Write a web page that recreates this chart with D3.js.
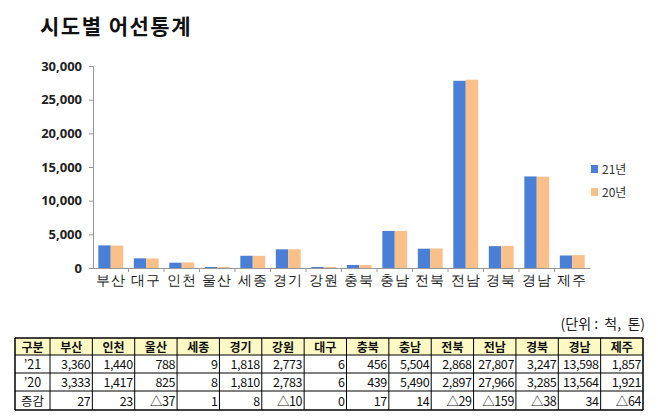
<!DOCTYPE html>
<html>
<head>
<meta charset="utf-8">
<script src="https://cdn.jsdelivr.net/npm/d3@7"></script>
<style>
  body { margin: 0; background: #fff; }
  svg { font-family: "Noto Sans CJK KR", "Noto Sans", sans-serif; }
</style>
</head>
<body>
<svg id="chart" width="658" height="418"></svg>
<script>
// 차트 항목 (그래프 x축)
const chartCats = ['부산','대구','인천','울산','세종','경기','강원','충북','충남','전북','전남','경북','경남','제주'];
// 표 항목 (표 머리글)
const tableCats = ['부산','인천','울산','세종','경기','강원','대구','충북','충남','전북','전남','경북','경남','제주'];
const series = ['21년', '20년'];
const rowLabels = ['\u201921', '\u201920', '증감'];
const vals21 = [3360,1440,788,9,1818,2773,6,456,5504,2868,27807,3247,13598,1857];
const vals20 = [3333,1417,825,8,1810,2783,6,439,5490,2897,27966,3285,13564,1921];
const diffs = [27,23,-37,1,8,-10,0,17,14,-29,-159,-38,34,-64];
const yTicks = [0,5000,10000,15000,20000,25000,30000];

const colors = { '21년': '#4a7fd8', '20년': '#fbbf8a' };
const svg = d3.select('#chart');

// 제목
svg.append('text')
  .attr('x', 40).attr('y', 34)
  .attr('font-size', 21).attr('font-weight', 'bold').attr('fill', '#111')
  .attr('letter-spacing', 1.5)
  .text('시도별 어선통계');

// 스케일
const x = d3.scaleBand().domain(chartCats).range([93, 590]).paddingInner(0.3).paddingOuter(0.15);
const x1 = d3.scaleBand().domain(series).range([0, x.bandwidth()]);
const y = d3.scaleLinear().domain([0, 30000]).range([268, 66]);

// y축
const yAx = svg.append('g').attr('transform', 'translate(93,0)')
  .call(d3.axisLeft(y).tickValues(yTicks).tickSize(4).tickFormat(d3.format(',')));
yAx.select('.domain').attr('stroke', '#999');
yAx.selectAll('.tick line').attr('stroke', '#999');
yAx.selectAll('text').attr('font-size', 13).attr('font-weight', 'bold').attr('fill', '#222')
  .attr('x', -11).style('font-family', '"Open Sans", "Noto Sans", sans-serif');

// x축
const xAx = svg.append('g').attr('transform', 'translate(0,268)')
  .call(d3.axisBottom(x).tickSize(0));
xAx.select('.domain').attr('stroke', '#999');
xAx.selectAll('text').attr('font-size', 14).attr('fill', '#222').attr('dy', 14)
  .attr('letter-spacing', 1);
// 구간 눈금
svg.append('g').selectAll('line')
  .data(chartCats.slice(1))
  .enter().append('line')
  .attr('x1', d => x(d) - x.step() * x.paddingInner() / 2)
  .attr('x2', d => x(d) - x.step() * x.paddingInner() / 2)
  .attr('y1', 268).attr('y2', 272)
  .attr('stroke', '#999');

// 막대
const rows = chartCats.map((c, i) => ({ cat: c, '21년': vals21[i], '20년': vals20[i] }));
const groups = svg.append('g').selectAll('g')
  .data(rows).enter().append('g')
  .attr('transform', d => `translate(${x(d.cat)},0)`);
groups.selectAll('rect')
  .data(d => series.map(s => ({ s, v: d[s] })))
  .enter().append('rect')
  .attr('x', d => x1(d.s))
  .attr('y', d => Math.min(y(d.v), y(0) - 1))
  .attr('width', x1.bandwidth())
  .attr('height', d => Math.max(y(0) - y(d.v), 1))
  .attr('fill', d => colors[d.s]);

// 범례
const leg = svg.append('g').attr('transform', 'translate(591,165)');
series.forEach((s, i) => {
  const g = leg.append('g').attr('transform', `translate(0,${i * 23})`);
  g.append('rect').attr('x', 0).attr('y', 0).attr('width', 7).attr('height', 8).attr('fill', colors[s]);
  g.append('text').attr('x', 11).attr('y', 8.5).attr('font-size', 12).attr('fill', '#333').text(s);
});

// 단위
svg.append('text')
  .attr('x', 645).attr('y', 329).attr('text-anchor', 'end')
  .attr('font-size', 14).attr('fill', '#222')
  .style('white-space', 'pre')
  .text('(단위 :  척,  톤)');

// 표
const colX = d3.scaleBand().domain(tableCats).range([50, 643]);
const rowY = [338, 355, 373, 391, 410];
const tbl = svg.append('g');
tbl.append('rect').attr('x', 15).attr('y', rowY[0]).attr('width', 35).attr('height', rowY[1] - rowY[0]).attr('fill', '#fdf9c4');
tbl.selectAll('rect.hd').data(tableCats).enter().append('rect')
  .attr('class', 'hd')
  .attr('x', d => colX(d)).attr('y', rowY[0])
  .attr('width', colX.bandwidth()).attr('height', rowY[1] - rowY[0])
  .attr('fill', '#fdf9c4');

// 머리글
tbl.append('text').attr('x', 32.5).attr('y', rowY[1] - 3.5).attr('text-anchor', 'middle')
  .attr('font-size', 12).attr('font-weight', 'bold').attr('fill', '#111').text('구분');
tbl.selectAll('text.hd').data(tableCats).enter().append('text')
  .attr('class', 'hd')
  .attr('x', d => colX(d) + colX.bandwidth() / 2).attr('y', rowY[1] - 3.5)
  .attr('text-anchor', 'middle').attr('font-size', 12).attr('font-weight', 'bold').attr('fill', '#111')
  .text(d => d);

const fmt = v => v < 0 ? '△' + d3.format(',')(-v) : d3.format(',')(v);
[vals21, vals20, diffs].forEach((arr, r) => {
  const yb = rowY[r + 2] - 4;
  tbl.append('text').attr('x', 32.5).attr('y', yb).attr('text-anchor', 'middle')
    .attr('font-size', 12.5).attr('fill', '#111').text(rowLabels[r]);
  tbl.selectAll(null).data(arr).enter().append('text')
    .attr('x', (d, i) => colX(tableCats[i]) + colX.bandwidth() - 2).attr('y', yb)
    .attr('text-anchor', 'end').attr('font-size', 12.5).attr('fill', '#111')
    .attr('letter-spacing', -0.4)
    .text(fmt);
});

// 표 선
const xs = [15].concat(tableCats.map(c => colX(c)), [643]);
xs.forEach((xx, i) => {
  tbl.append('line').attr('x1', xx).attr('x2', xx).attr('y1', rowY[0]).attr('y2', rowY[4])
    .attr('stroke', '#000').attr('stroke-width', (i === 0 || i === xs.length - 1) ? 1.5 : 1);
});
rowY.forEach((yy, i) => {
  tbl.append('line').attr('x1', 15).attr('x2', 643).attr('y1', yy).attr('y2', yy)
    .attr('stroke', '#000').attr('stroke-width', (i === 0 || i === rowY.length - 1) ? 1.5 : 1);
});
</script>
</body>
</html>
